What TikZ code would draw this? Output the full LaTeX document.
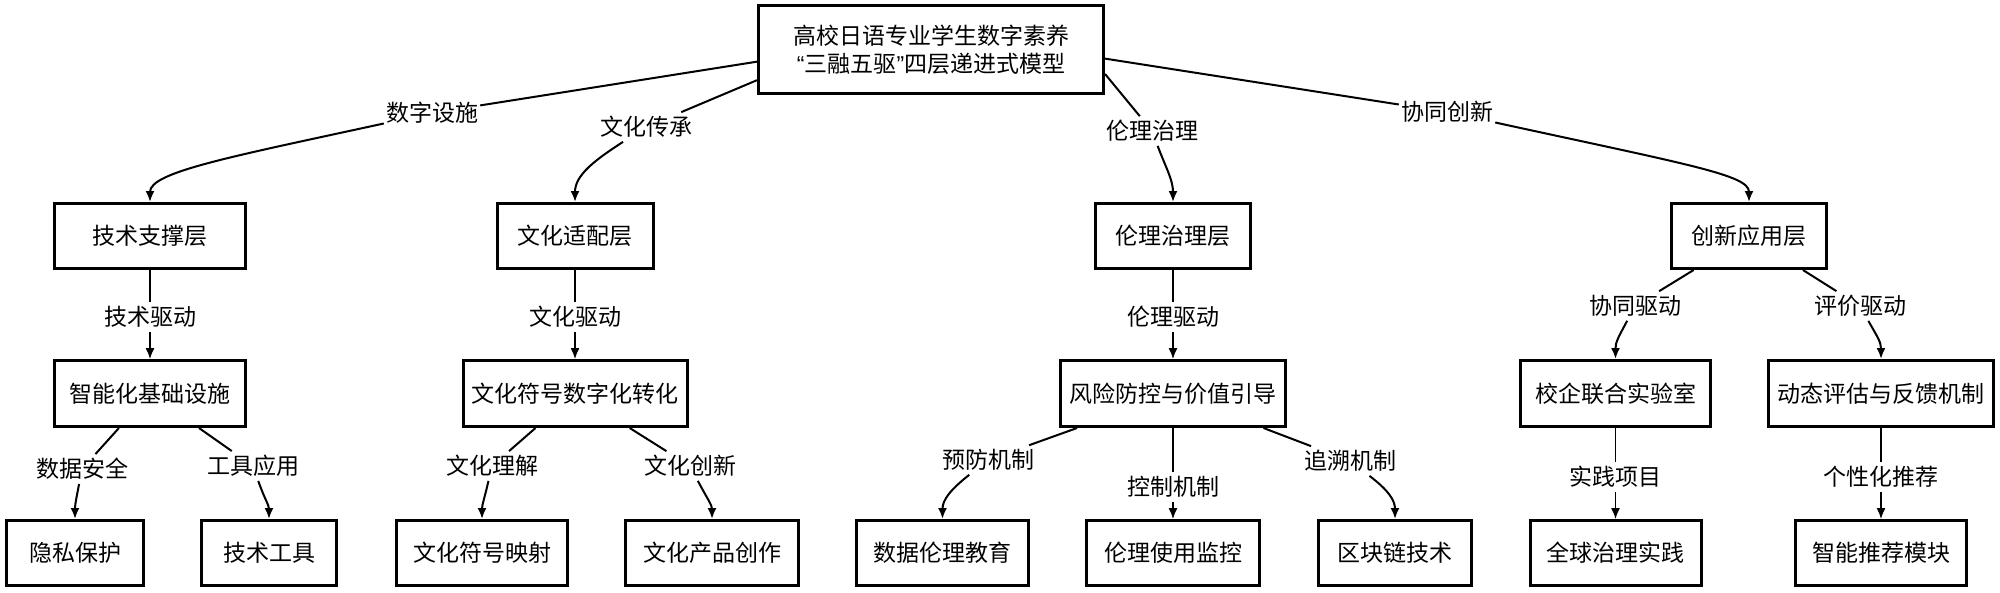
\documentclass[tikz,border=0pt]{standalone}
\usepackage{fontspec}
\setmainfont{Noto Sans CJK SC}
\newfontfamily\qf{Liberation Sans}
\usetikzlibrary{arrows.meta}
\begin{document}
\begin{tikzpicture}[x=1pt,y=-1pt,
  box/.style={draw=black, line width=3pt, fill=white, inner sep=0pt, font=\fontsize{23}{28}\selectfont, align=center},
  lbl/.style={fill=white, inner xsep=2pt, inner ysep=4pt, font=\fontsize{23}{28}\selectfont},
  conn/.style={line width=2pt, draw=black},
  thinc/.style={line width=1.3pt, draw=black},
  tip/.style={-{Latex[length=11pt,width=9pt]}}
]
\useasboundingbox (0,0) rectangle (2000,592);
% root
\node[box, minimum width=345pt, minimum height=88pt] (root) at (931,49.5) {高校日语专业学生数字素养\\{\qf “}三融五驱{\qf ”}四层递进式模型};
% level 1
\node[box, minimum width=191pt, minimum height=65pt] (tech) at (150,236) {技术支撑层};
\node[box, minimum width=156pt, minimum height=65pt] (cult) at (575,236) {文化适配层};
\node[box, minimum width=155pt, minimum height=65pt] (eth) at (1173,236) {伦理治理层};
\node[box, minimum width=155pt, minimum height=65pt] (inno) at (1749,236) {创新应用层};
% level 2
\node[box, minimum width=191pt, minimum height=66pt] (infra) at (150,393.5) {智能化基础设施};
\node[box, minimum width=224pt, minimum height=66pt] (sym) at (575,393.5) {文化符号数字化转化};
\node[box, minimum width=225pt, minimum height=66pt] (risk) at (1173,393.5) {风险防控与价值引导};
\node[box, minimum width=190pt, minimum height=66pt] (lab) at (1615.5,393.5) {校企联合实验室};
\node[box, minimum width=225pt, minimum height=66pt] (eval) at (1881,393.5) {动态评估与反馈机制};
% level 3
\node[box, minimum width=137pt, minimum height=65pt] (priv) at (75,553) {隐私保护};
\node[box, minimum width=135pt, minimum height=65pt] (tool) at (269,553) {技术工具};
\node[box, minimum width=171pt, minimum height=65pt] (map) at (482,553) {文化符号映射};
\node[box, minimum width=173pt, minimum height=65pt] (prod) at (712,553) {文化产品创作};
\node[box, minimum width=172pt, minimum height=65pt] (edu) at (942.5,553) {数据伦理教育};
\node[box, minimum width=173pt, minimum height=65pt] (mon) at (1173,553) {伦理使用监控};
\node[box, minimum width=153pt, minimum height=65pt] (chain) at (1395,553) {区块链技术};
\node[box, minimum width=171pt, minimum height=65pt] (glob) at (1615.5,553) {全球治理实践};
\node[box, minimum width=171pt, minimum height=65pt] (rec) at (1881,553) {智能推荐模块};
% labels
\node[lbl] (lsz) at (432,113) {数字设施};
\node[lbl] (lwh) at (646,127) {文化传承};
\node[lbl] (lll) at (1152,131) {伦理治理};
\node[lbl] (lxt) at (1447,112) {协同创新};
\node[lbl] (ljsqd) at (150,317) {技术驱动};
\node[lbl] (lwhqd) at (575,317) {文化驱动};
\node[lbl] (lllqd) at (1173,317) {伦理驱动};
\node[lbl] (lxtqd) at (1635,306) {协同驱动};
\node[lbl] (lpjqd) at (1860,306) {评价驱动};
\node[lbl] (lsjaq) at (82,469) {数据安全};
\node[lbl] (lgjyy) at (253,466) {工具应用};
\node[lbl] (lwhlj) at (492,466) {文化理解};
\node[lbl] (lwhcx) at (690,466) {文化创新};
\node[lbl] (lyfjz) at (988,460) {预防机制};
\node[lbl] (lkzjz) at (1173,487) {控制机制};
\node[lbl] (lzsjz) at (1350,461) {追溯机制};
\node[lbl] (lsjxm) at (1615.5,477) {实践项目};
\node[lbl] (lgxh) at (1881,477) {个性化推荐};
% root edges
\draw[conn] (root.184) -- (lsz);
\draw[conn,tip] (lsz) .. controls (230,157) and (150,172) .. (tech.north);
\draw[conn] (root.190) -- (lwh);
\draw[conn,tip] (lwh) .. controls (595,160) and (575,175) .. (cult.north);
\draw[conn] (root.352) -- (lll);
\draw[conn,tip] (lll) .. controls (1166,168) and (1173,180) .. (eth.north);
\draw[conn] (root.357) -- (lxt);
\draw[conn,tip] (lxt) .. controls (1690,165) and (1749,175) .. (inno.north);
% level1 -> level2
\draw[thinc] (tech) -- (ljsqd);
\draw[thinc,tip] (ljsqd) -- (infra);
\draw[thinc] (cult) -- (lwhqd);
\draw[thinc,tip] (lwhqd) -- (sym);
\draw[thinc] (eth) -- (lllqd);
\draw[thinc,tip] (lllqd) -- (risk);
\draw[conn] (inno) -- (lxtqd);
\draw[conn,tip] (lxtqd) .. controls (1618,338) and (1615.5,342) .. (lab.north);
\draw[conn] (inno) -- (lpjqd);
\draw[conn,tip] (lpjqd) .. controls (1878,338) and (1881,342) .. (eval.north);
% level2 -> level3
\draw[conn] (infra) -- (lsjaq);
\draw[conn,tip] (lsjaq) .. controls (76,500) and (75,505) .. (priv.north);
\draw[conn] (infra) -- (lgjyy);
\draw[conn,tip] (lgjyy) .. controls (265,500) and (269,505) .. (tool.north);
\draw[conn] (sym) -- (lwhlj);
\draw[conn,tip] (lwhlj) .. controls (484,500) and (482,505) .. (map.north);
\draw[conn] (sym) -- (lwhcx);
\draw[conn,tip] (lwhcx) .. controls (708,500) and (712,505) .. (prod.north);
\draw[conn] (risk) -- (lyfjz);
\draw[conn,tip] (lyfjz) .. controls (950,490) and (942.5,500) .. (edu.north);
\draw[thinc] (risk) -- (lkzjz);
\draw[thinc,tip] (lkzjz) -- (mon);
\draw[conn] (risk) -- (lzsjz);
\draw[conn,tip] (lzsjz) .. controls (1388,490) and (1395,500) .. (chain.north);
\draw[thinc] (lab) -- (lsjxm);
\draw[thinc,tip] (lsjxm) -- (glob);
\draw[thinc] (eval) -- (lgxh);
\draw[thinc,tip] (lgxh) -- (rec);
\end{tikzpicture}
\end{document}
